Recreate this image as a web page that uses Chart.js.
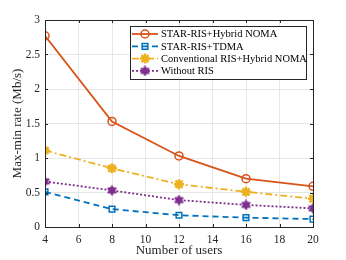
<!DOCTYPE html>
<html><head><meta charset="utf-8">
<script src="https://cdn.jsdelivr.net/npm/chart.js@4"></script>
<style>html,body{margin:0;padding:0;background:#fff}#w{width:346px;height:260px}</style>
</head><body><div id="w"><canvas id="c" width="346" height="260"></canvas></div>
<script>
const users = [4, 8, 12, 16, 20];
const starHybrid = [2.77, 1.53, 1.03, 0.70, 0.59];
const starTdma = [0.51, 0.26, 0.17, 0.135, 0.115];
const convHybrid = [1.11, 0.85, 0.62, 0.51, 0.41];
const withoutRis = [0.66, 0.53, 0.39, 0.32, 0.27];
const seriesLabels = ['STAR-RIS+Hybrid NOMA','STAR-RIS+TDMA','Conventional RIS+Hybrid NOMA','Without RIS'];
const xTicks = [4,6,8,10,12,14,16,18,20];
const yTicks = [0,0.5,1,1.5,2,2.5,3];

function hexagram(color){
  const c=document.createElement('canvas');c.width=11;c.height=11;
  const g=c.getContext('2d');g.fillStyle=color;g.strokeStyle=color;g.lineWidth=1;
  const cx=5.5,cy=5.5,R=5,r=2.9;
  g.beginPath();
  for(let i=0;i<12;i++){const a=-Math.PI/2+i*Math.PI/6;const rr=i%2?r:R;g.lineTo(cx+rr*Math.cos(a),cy+rr*Math.sin(a));}
  g.closePath();g.fill();g.stroke();return c;
}
const pts=a=>users.map((u,i)=>({x:u,y:a[i]}));
const FONT='"Liberation Serif", "Times New Roman", serif';
const colors=['#D95319','#0072BD','#EDB120','#7E2F8E'];
const purpleStar=hexagram(colors[3]);

const datasets=[
 {label:seriesLabels[0],data:pts(starHybrid),borderColor:colors[0],backgroundColor:'rgba(0,0,0,0)',borderWidth:1.8,pointStyle:'circle',pointRadius:4,pointBorderWidth:1.5,pointBorderColor:colors[0],pointBackgroundColor:'rgba(0,0,0,0)'},
 {label:seriesLabels[1],data:pts(starTdma),borderColor:colors[1],backgroundColor:'rgba(0,0,0,0)',borderWidth:1.8,borderDash:[6,4],pointStyle:'rect',pointRadius:4,pointBorderWidth:1.5,pointBorderColor:colors[1],pointBackgroundColor:'rgba(0,0,0,0)'},
 {label:seriesLabels[2],data:pts(convHybrid),borderColor:colors[2],backgroundColor:'rgba(0,0,0,0)',borderWidth:1.8,borderDash:[7,3,2,3],pointStyle:'star',pointRadius:5,pointBorderWidth:2.5,pointBorderColor:colors[2],pointBackgroundColor:colors[2]},
 {label:seriesLabels[3],data:pts(withoutRis),borderColor:colors[3],backgroundColor:'rgba(0,0,0,0)',borderWidth:1.8,borderDash:[2,2],pointStyle:purpleStar,pointRadius:5,pointBorderColor:colors[3],pointBackgroundColor:colors[3]}
];

const frame={id:'frame',
 afterDatasetsDraw(chart){
  const {ctx,chartArea:a,scales:{x,y}}=chart;
  ctx.save();ctx.strokeStyle='#262626';ctx.lineWidth=1;ctx.setLineDash([]);
  ctx.strokeRect(Math.round(a.left)+0.5,Math.round(a.top)+0.5,Math.round(a.right-a.left),Math.round(a.bottom-a.top));
  ctx.beginPath();
  xTicks.forEach(v=>{const p=Math.round(x.getPixelForValue(v))+0.5;ctx.moveTo(p,a.bottom);ctx.lineTo(p,a.bottom-3);ctx.moveTo(p,a.top);ctx.lineTo(p,a.top+3);});
  yTicks.forEach(v=>{const p=Math.round(y.getPixelForValue(v))+0.5;ctx.moveTo(a.left,p);ctx.lineTo(a.left+3,p);ctx.moveTo(a.right,p);ctx.lineTo(a.right-3,p);});
  ctx.stroke();
  // legend
  const lx=130,ly=26,lw=176,lh=53;
  ctx.fillStyle='#fff';ctx.fillRect(lx,ly,lw,lh);
  ctx.strokeStyle='#262626';ctx.strokeRect(lx+0.5,ly+0.5,lw,lh);
  ctx.font='10.5px '+FONT;ctx.textBaseline='middle';
  chart.data.datasets.forEach((d,i)=>{
    const yy=ly+8+i*12.3;
    ctx.strokeStyle=d.borderColor;ctx.lineWidth=1.8;ctx.setLineDash(d.borderDash||[]);
    ctx.beginPath();ctx.moveTo(lx+2,yy);ctx.lineTo(lx+28,yy);ctx.stroke();
    ctx.setLineDash([]);
    const o={pointStyle:d.pointStyle,radius:d.pointRadius,borderWidth:d.pointBorderWidth||1,rotation:0};
    ctx.lineWidth=d.pointBorderWidth||1;ctx.fillStyle=d.pointBackgroundColor;ctx.strokeStyle=d.pointBorderColor;
    if(d.pointStyle instanceof HTMLCanvasElement){ctx.drawImage(d.pointStyle,lx+15-5.5,yy-5.5);}
    else{Chart.helpers.drawPoint(ctx,o,lx+15,yy);}
    ctx.fillStyle='#000';ctx.fillText(d.label,lx+31,yy+0.5);
  });
  ctx.restore();
 }};

new Chart(document.getElementById('c'),{
 type:'line',
 data:{datasets},
 options:{
  responsive:false,animation:false,devicePixelRatio:1,
  layout:{padding:{top:20,right:33,left:0,bottom:0}},
  plugins:{legend:{display:false},tooltip:{enabled:false}},
  scales:{
   x:{type:'linear',min:4,max:20,
      afterBuildTicks(s){s.ticks=xTicks.map(v=>({value:v}));},
      afterFit(s){s.height=33;},
      grid:{color:'#e6e6e6',drawTicks:false,lineWidth:1},border:{display:false},
      ticks:{padding:6,color:'#262626',font:{family:FONT,size:11.5},maxRotation:0},
      title:{display:true,text:'Number of users',color:'#262626',font:{family:FONT,size:13},padding:{top:2,bottom:2}}},
   y:{type:'linear',min:0,max:3,
      afterBuildTicks(s){s.ticks=yTicks.map(v=>({value:v}));},
      afterFit(s){s.width=45;},
      grid:{color:'#e6e6e6',drawTicks:false,lineWidth:1},border:{display:false},
      ticks:{padding:5,color:'#262626',font:{family:FONT,size:11.5},callback:v=>String(v)},
      title:{display:true,text:'Max-min rate (Mb/s)',color:'#262626',font:{family:FONT,size:13},padding:{top:10,bottom:0}}}
  }
 },
 plugins:[frame]
});
</script></body></html>
